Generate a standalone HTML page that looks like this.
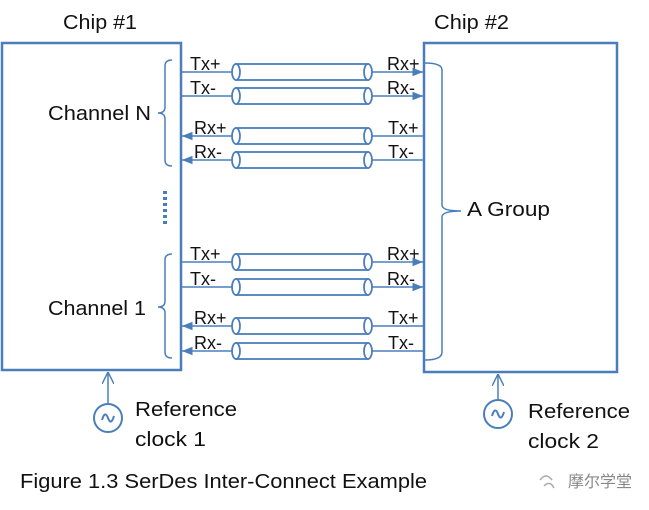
<!DOCTYPE html>
<html><head><style>body{margin:0;background:#fff}svg{display:block}text{font-family:"Liberation Sans","Noto Sans CJK SC",sans-serif;fill:#111}</style></head>
<body>
<svg width="649" height="510" viewBox="0 0 649 510" xmlns="http://www.w3.org/2000/svg">
<defs>
<marker id="a" viewBox="0 0 10 10" refX="10" refY="5" markerWidth="7" markerHeight="7" orient="auto"><path d="M0,1 L10,5 L0,9 Z" fill="#4a7ebb"/></marker>
<marker id="o" viewBox="0 0 10 10" refX="10" refY="5" markerWidth="8" markerHeight="8" orient="auto"><path d="M0,0 L10,5 L0,10" fill="none" stroke="#4a7ebb" stroke-width="1.2"/></marker>
</defs>
<g stroke="#4a7ebb" stroke-width="2.5" fill="none">
<rect x="2" y="43" width="179" height="327"/>
<rect x="424" y="43" width="193" height="329"/>
</g>
<g stroke="#4a7ebb" stroke-width="1.5" fill="none">
<path d="M172,60 Q165,60 165,66 L165,107 Q165,113 158,113 Q165,113 165,119 L165,160 Q165,166 172,166"/>
<path d="M172,254 Q165,254 165,260 L165,301 Q165,307 158,307 Q165,307 165,313 L165,352 Q165,358 172,358"/>
<path d="M425,63 Q442,63 442,70 L442,205 Q442,211 461,211 Q442,211 442,217 L442,352 Q442,360 425,360"/>
</g>
<g fill="#4a7ebb"><rect x="163" y="191" width="4" height="3"/><rect x="163" y="197" width="4" height="3"/><rect x="163" y="203" width="4" height="3"/><rect x="163" y="209" width="4" height="3"/><rect x="163" y="215" width="4" height="3"/><rect x="163" y="221" width="4" height="3"/></g>
<g stroke="#4a7ebb" stroke-width="1.5" fill="none">
<line x1="181" y1="72" x2="423" y2="72" marker-end="url(#a)"/>
<line x1="181" y1="96" x2="423" y2="96" marker-end="url(#a)"/>
<line x1="424" y1="136" x2="182" y2="136" marker-end="url(#a)"/>
<line x1="424" y1="160" x2="182" y2="160" marker-end="url(#a)"/>
<line x1="181" y1="262" x2="423" y2="262" marker-end="url(#a)"/>
<line x1="181" y1="287" x2="423" y2="287" marker-end="url(#a)"/>
<line x1="424" y1="326" x2="182" y2="326" marker-end="url(#a)"/>
<line x1="424" y1="351" x2="182" y2="351" marker-end="url(#a)"/>
</g>
<g stroke="#4a7ebb" stroke-width="1.8" fill="#fff">
<g id="c"><rect x="236" y="64" width="132" height="16"/><ellipse cx="236" cy="72" rx="4" ry="8"/><ellipse cx="368" cy="72" rx="4" ry="8"/></g>
<use href="#c" y="24"/><use href="#c" y="64"/><use href="#c" y="88"/>
<use href="#c" y="190"/><use href="#c" y="215"/><use href="#c" y="254"/><use href="#c" y="279"/>
</g>
<g stroke="#4a7ebb" stroke-width="1.5" fill="none">
<line x1="108" y1="403" x2="108" y2="372" marker-end="url(#o)"/>
<line x1="498" y1="400" x2="498" y2="374" marker-end="url(#o)"/>
<circle cx="108" cy="418" r="14" stroke-width="2"/>
<circle cx="498" cy="414" r="14" stroke-width="2"/>
<path d="M102,420 Q105,410 108,418 Q111,426 114,416" stroke-width="2"/>
<path d="M492,416 Q495,406 498,414 Q501,422 504,412" stroke-width="2"/>
</g>
<g font-size="20">
<text x="63" y="29" textLength="74" lengthAdjust="spacingAndGlyphs">Chip #1</text>
<text x="434" y="29" textLength="75" lengthAdjust="spacingAndGlyphs">Chip #2</text>
<text x="48" y="120" textLength="103" lengthAdjust="spacingAndGlyphs">Channel N</text>
<text x="48" y="315" textLength="98" lengthAdjust="spacingAndGlyphs">Channel 1</text>
<text x="467" y="216" textLength="83" lengthAdjust="spacingAndGlyphs">A Group</text>
<text x="135" y="416" textLength="102" lengthAdjust="spacingAndGlyphs">Reference</text>
<text x="135" y="446" textLength="71" lengthAdjust="spacingAndGlyphs">clock 1</text>
<text x="528" y="418" textLength="102" lengthAdjust="spacingAndGlyphs">Reference</text>
<text x="528" y="448" textLength="71" lengthAdjust="spacingAndGlyphs">clock 2</text>
<text x="20" y="488" textLength="407" lengthAdjust="spacingAndGlyphs">Figure 1.3 SerDes Inter-Connect Example</text>
</g>
<g font-size="18">
<text x="190" y="70">Tx+</text><text x="190" y="94">Tx-</text>
<text x="194" y="134">Rx+</text><text x="194" y="158">Rx-</text>
<text x="387" y="70">Rx+</text><text x="387" y="94">Rx-</text>
<text x="388" y="134">Tx+</text><text x="388" y="158">Tx-</text>
<text x="190" y="260">Tx+</text><text x="190" y="285">Tx-</text>
<text x="194" y="324">Rx+</text><text x="194" y="349">Rx-</text>
<text x="387" y="260">Rx+</text><text x="387" y="285">Rx-</text>
<text x="388" y="324">Tx+</text><text x="388" y="349">Tx-</text>
</g>
<text x="568" y="487" font-size="16" style="fill:#888">摩尔学堂</text>
<path d="M540,480 q6,-8 12,0 M544,486 q6,-6 10,2" stroke="#aaa" fill="none" stroke-width="1.5"/>
</svg>
</body></html>
